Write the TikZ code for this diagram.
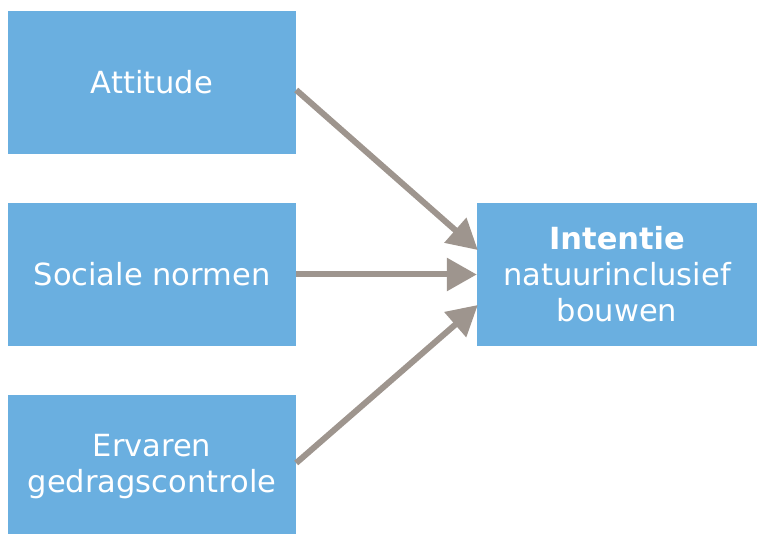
\documentclass[tikz,border=0pt]{standalone}
\usepackage{fontspec}
\setmainfont{DejaVu Sans}
\usetikzlibrary{arrows.meta,calc}
\definecolor{boxblue}{HTML}{6AAFE0}
\definecolor{arrowgrey}{HTML}{9E958E}
\begin{document}
\begin{tikzpicture}[x=1pt,y=1pt,
  box/.style={fill=boxblue,draw=none,text=white,align=center,inner sep=0pt,
    font=\fontsize{30.5}{36}\selectfont},
  conn/.style={draw=arrowgrey,line width=6pt,-{Triangle[length=30pt,width=32pt]}}]
\useasboundingbox (0,0) rectangle (757,533);
\clip (0,0) rectangle (757,533);
\node[box,minimum width=288pt,minimum height=143pt] (att) at (152,450.5) {Attitude};
\node[box,minimum width=288pt,minimum height=143pt] (soc) at (152,258.5) {Sociale normen};
\node[box,minimum width=288pt,minimum height=143pt] (erv) at (152,66.5) {Ervaren\\gedragscontrole};
\node[box,minimum width=280pt,minimum height=143pt] (int) at (617,258.5) {\textbf{Intentie}\\natuurinclusief\\bouwen};
\draw[conn] ($(att.east)+(0,-7.5)$) -- ($(int.west)+(1,24.5)$);
\draw[conn] (soc.east) -- (int.west);
\draw[conn] ($(erv.east)+(0,3.5)$) -- ($(int.west)+(1,-30.5)$);
\end{tikzpicture}
\end{document}
